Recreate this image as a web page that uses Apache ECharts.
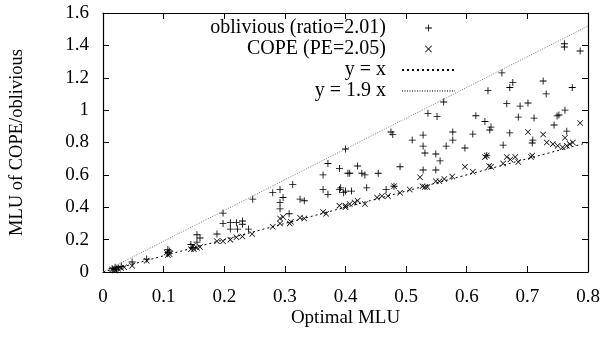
<!DOCTYPE html>
<html>
<head>
<meta charset="utf-8">
<script src="https://cdn.jsdelivr.net/npm/echarts@6/dist/echarts.min.js"></script>
<style>
  html, body { margin: 0; padding: 0; background: #fff; }
  #chart { width: 601px; height: 343px; }
</style>
</head>
<body>
<div id="chart"></div>
<script>
// oblivious routing (+)
const oblivX = [0.015, 0.02, 0.025, 0.03, 0.022, 0.048, 0.072, 0.107, 0.107, 0.11,
  0.145, 0.148, 0.155, 0.155, 0.16, 0.188, 0.198, 0.198, 0.21, 0.22, 0.23, 0.23, 0.21, 0.222, 0.24, 0.247,
  0.28, 0.292, 0.313, 0.292, 0.297, 0.292, 0.325, 0.332, 0.307,
  0.363, 0.371, 0.39, 0.404, 0.40, 0.363, 0.371, 0.392, 0.397,
  0.39, 0.40, 0.41, 0.435, 0.467, 0.48,
  0.42, 0.427, 0.432, 0.407, 0.454, 0.49, 0.528, 0.549,
  0.475, 0.478, 0.51, 0.528, 0.528, 0.531, 0.549, 0.556, 0.566, 0.577, 0.577,
  0.536, 0.551, 0.562,
  0.597, 0.66, 0.61, 0.671, 0.709, 0.708, 0.765, 0.633,
  0.615, 0.63, 0.64, 0.638, 0.685, 0.711, 0.749, 0.752, 0.762, 0.744,
  0.666, 0.688, 0.701,
  0.635, 0.658, 0.676, 0.671, 0.726, 0.731, 0.774,
  0.761, 0.761, 0.787];
const oblivY = [0.02, 0.03, 0.025, 0.035, 0.018, 0.062, 0.08, 0.14, 0.12, 0.13,
  0.17, 0.15, 0.23, 0.185, 0.21, 0.235, 0.364, 0.30, 0.305, 0.305, 0.315, 0.295, 0.265, 0.265, 0.265, 0.45,
  0.49, 0.51, 0.54, 0.43, 0.46, 0.39, 0.45, 0.44, 0.36,
  0.6, 0.67, 0.64, 0.61, 0.76, 0.51, 0.48, 0.52, 0.49,
  0.51, 0.50, 0.50, 0.52, 0.51, 0.53,
  0.655, 0.61, 0.60, 0.61, 0.61, 0.65, 0.63, 0.63,
  0.865, 0.85, 0.815, 0.846, 0.778, 0.735, 0.729, 0.686, 0.778, 0.815, 0.865,
  0.98, 0.96, 1.05,
  0.766, 0.784, 0.852, 0.859, 0.815, 0.797, 0.87, 0.72,
  0.965, 0.93, 0.895, 0.877, 0.957, 0.951, 0.964, 0.97, 1.0, 0.908,
  1.04, 1.025, 1.044,
  1.12, 1.23, 1.17, 1.14, 1.18, 1.10, 1.14,
  1.41, 1.39, 1.365];

// COPE (x)
const copeX = [0.015, 0.02, 0.025, 0.03, 0.035, 0.02, 0.048, 0.072, 0.107, 0.11, 0.105,
  0.145, 0.15, 0.155, 0.16, 0.148,
  0.188, 0.198, 0.21, 0.22, 0.23, 0.246,
  0.28, 0.292, 0.292, 0.297, 0.31, 0.308, 0.325, 0.332,
  0.363, 0.368, 0.39, 0.40,
  0.40, 0.407, 0.415, 0.42, 0.432,
  0.452, 0.46, 0.47, 0.48, 0.49, 0.506,
  0.523, 0.527, 0.531, 0.535, 0.549, 0.555, 0.563, 0.576,
  0.597, 0.61,
  0.63, 0.633, 0.637, 0.64, 0.66, 0.666, 0.672, 0.68, 0.685, 0.708, 0.706,
  0.701, 0.726,
  0.732, 0.742, 0.75, 0.758, 0.765, 0.77, 0.762, 0.775, 0.787];
const copeY = [0.015, 0.02, 0.02, 0.025, 0.03, 0.01, 0.038, 0.07, 0.105, 0.11, 0.12,
  0.14, 0.14, 0.15, 0.155, 0.16,
  0.19, 0.19, 0.2, 0.215, 0.22, 0.235,
  0.28, 0.3, 0.33, 0.34, 0.31, 0.3, 0.335, 0.33,
  0.37, 0.36, 0.41, 0.40,
  0.41, 0.42, 0.43, 0.44, 0.42,
  0.46, 0.47, 0.47, 0.53, 0.49, 0.51,
  0.585, 0.53, 0.525, 0.525, 0.56, 0.56, 0.575, 0.59,
  0.65, 0.62,
  0.71, 0.72, 0.655, 0.65, 0.67, 0.71, 0.695, 0.71, 0.68, 0.72, 0.71,
  0.865, 0.85,
  0.80, 0.79, 0.78, 0.77, 0.78, 0.79, 0.83, 0.8, 0.92];

// reference lines y = x and y = 1.9 x (end points)
const refX = [0, 0.8];
const lineEqY = [0, 0.8];
const line19Y = [0, 1.52];

const xTicks = ['0', '0.1', '0.2', '0.3', '0.4', '0.5', '0.6', '0.7', '0.8'];
const yTicks = ['0', '0.2', '0.4', '0.6', '0.8', '1', '1.2', '1.4', '1.6'];

const seriesNames = ['oblivious (ratio=2.01)', 'COPE (PE=2.05)', 'y = x', 'y = 1.9 x'];

const FONT = 'Liberation Serif';
const plusPath = 'path://M4.4,0H5.6V4.4H10V5.6H5.6V10H4.4V5.6H0V4.4H4.4Z';
const crossPath = 'path://M0,0.85L0.85,0L5,4.15L9.15,0L10,0.85L5.85,5L10,9.15L9.15,10L5,5.85L0.85,10L0,9.15L4.15,5Z';

const zip = (xs, ys) => xs.map((x, i) => [x, ys[i]]);

const chart = echarts.init(document.getElementById('chart'), null, { renderer: 'canvas' });

const axisCommon = {
  type: 'value',
  axisLine: { show: true, onZero: false, lineStyle: { color: '#000', width: 1.2 } },
  axisTick: { show: true, inside: true, length: 6, lineStyle: { color: '#000' } },
  splitLine: { show: false }
};

chart.setOption({
  animation: false,
  backgroundColor: '#fff',
  color: ['#000', '#000', '#000', '#777'],
  textStyle: { fontFamily: FONT },
  grid: { left: 103, right: 13, top: 13, bottom: 71, containLabel: false, outerBoundsMode: 'none' },
  legend: {
    data: [
      { name: seriesNames[0], icon: plusPath },
      { name: seriesNames[1], icon: crossPath },
      { name: seriesNames[2], itemStyle: { opacity: 0 } },
      { name: seriesNames[3], itemStyle: { opacity: 0 } }
    ],
    orient: 'vertical',
    align: 'right',
    right: 145,
    top: 18,
    padding: 0,
    itemWidth: 53,
    itemHeight: 7,
    itemGap: 1,
    selectedMode: false,
    textStyle: { fontFamily: FONT, fontSize: 20, lineHeight: 20, color: '#000', padding: [0, 11, 0, 0] }
  },
  xAxis: [
    Object.assign({}, axisCommon, {
      min: 0, max: 0.8, interval: 0.1,
      name: 'Optimal MLU', nameLocation: 'middle', nameGap: 37, nameMoveOverlap: false,
      nameTextStyle: { fontFamily: FONT, fontSize: 19, color: '#000' },
      axisLabel: { color: '#000', fontFamily: FONT, fontSize: 19, margin: 16,
        formatter: (v) => xTicks[Math.round(v * 10)] }
    }),
    Object.assign({}, axisCommon, {
      position: 'top', min: 0, max: 0.8, interval: 0.1,
      axisLabel: { show: false }
    })
  ],
  yAxis: [
    Object.assign({}, axisCommon, {
      min: 0, max: 1.6, interval: 0.2,
      name: 'MLU of COPE/oblivious', nameLocation: 'middle', nameGap: 76, nameMoveOverlap: false,
      nameTextStyle: { fontFamily: FONT, fontSize: 18.5, color: '#000' },
      axisLabel: { color: '#000', fontFamily: FONT, fontSize: 19, margin: 14,
        formatter: (v) => yTicks[Math.round(v * 5)] }
    }),
    Object.assign({}, axisCommon, {
      position: 'right', min: 0, max: 1.6, interval: 0.2,
      axisLabel: { show: false }
    })
  ],
  series: [
    {
      name: seriesNames[0], type: 'scatter',
      symbol: plusPath, symbolSize: 7,
      itemStyle: { color: '#000', opacity: 1 },
      data: zip(oblivX, oblivY), z: 3
    },
    {
      name: seriesNames[1], type: 'scatter',
      symbol: crossPath, symbolSize: 6,
      itemStyle: { color: '#000', opacity: 1 },
      data: zip(copeX, copeY), z: 3
    },
    {
      name: seriesNames[2], type: 'line',
      symbol: 'none',
      itemStyle: { color: '#000' },
      lineStyle: { color: '#000', width: 1, type: [2, 3] },
      data: zip(refX, lineEqY), z: 2
    },
    {
      name: seriesNames[3], type: 'line',
      symbol: 'none',
      itemStyle: { color: '#777' },
      lineStyle: { color: '#777', width: 1, type: [1, 1.5] },
      data: zip(refX, line19Y), z: 2
    }
  ]
});
</script>
</body>
</html>
